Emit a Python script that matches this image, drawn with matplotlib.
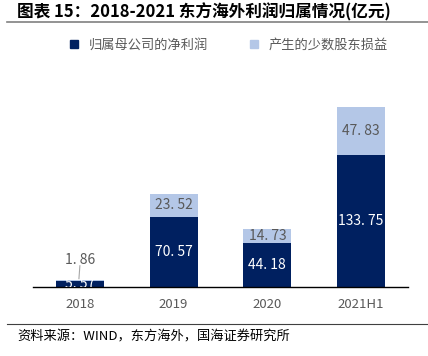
import matplotlib.pyplot as plt
from matplotlib.lines import Line2D

plt.rcParams['font.family'] = ['Noto Sans CJK SC', 'DejaVu Sans']

# data
categories = ["2018", "2019", "2020", "2021H1"]
parent_profit = [5.57, 70.57, 44.18, 133.75]
minority_profit = [1.86, 23.52, 14.73, 47.83]

dark = "#002060"
light = "#B4C7E7"
grey = "#595959"

W, H = 428, 356
fig = plt.figure(figsize=(W / 100, H / 100), dpi=100)

# axes: baseline at y=287px, x from 33 to 408
ymax = 200
ax = fig.add_axes([33 / W, (H - 287) / H, 375 / W, ymax * 0.99 / H])
x = list(range(len(categories)))
ax.bar(x, parent_profit, width=0.51, color=dark, zorder=2)
ax.bar(x, minority_profit, width=0.51, bottom=parent_profit, color=light, zorder=2)
ax.set_xlim(-0.5, 3.5)
ax.set_ylim(0, ymax)

def fmt(v):
    return f"{v:.2f}".replace(".", ". ")

for i, (p, m) in enumerate(zip(parent_profit, minority_profit)):
    ax.text(i, p / 2, fmt(p), ha="center", va="center", color="white",
            fontsize=10, zorder=3, clip_on=True)
    if i == 0:
        ax.text(i, p + m + 20, fmt(m), ha="center", va="center", color=grey,
                fontsize=10, zorder=3)
        ax.plot([i, i - 0.01], [p + m + 14, p + m + 1], color="#A6A6A6", lw=0.8, zorder=3)
    else:
        ax.text(i, p + m / 2, fmt(m), ha="center", va="center", color=grey,
                fontsize=10, zorder=3)

for s in ["top", "right", "left"]:
    ax.spines[s].set_visible(False)
ax.spines["bottom"].set_color("black")
ax.spines["bottom"].set_linewidth(1.0)
ax.set_yticks([])
ax.set_xticks(x)
ax.set_xticklabels(categories, color=grey, fontsize=9.5)
ax.tick_params(axis="x", length=0, pad=8)

# legend
handles = [
    Line2D([], [], marker="s", linestyle="none", markersize=6, color=dark),
    Line2D([], [], marker="s", linestyle="none", markersize=6, color=light),
]
fig.legend(handles, ["归属母公司的净利润", "产生的少数股东损益"], loc="center",
           bbox_to_anchor=(224 / W, 1 - 45 / H), ncol=2, frameon=False,
           fontsize=9.5, labelcolor=grey, handletextpad=0.1, columnspacing=2.5)

# title and footer
fig.text(17 / W, 1 - 12 / H, "图表 15：2018-2021 东方海外利润归属情况(亿元)",
         fontsize=12, fontweight="bold", va="center", ha="left")
fig.add_artist(Line2D([7 / W, 1], [1 - 22 / H, 1 - 22 / H], color="#808080", lw=1.2))
fig.add_artist(Line2D([7 / W, 1], [1 - 324 / H, 1 - 324 / H], color="#404040", lw=0.8))
fig.text(17 / W, 1 - 337 / H, "资料来源：WIND，东方海外，国海证券研究所",
         fontsize=9.5, va="center", ha="left")

fig.savefig("out.png", dpi=100)
